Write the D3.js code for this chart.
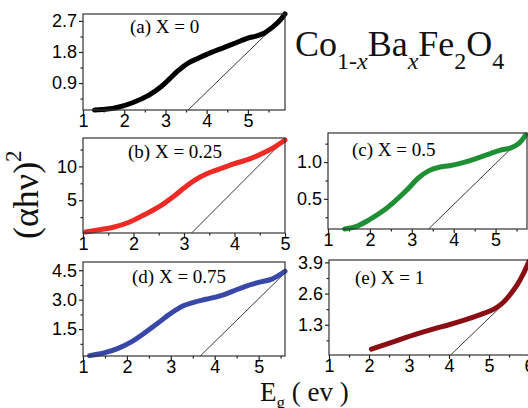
<!DOCTYPE html>
<html><head><meta charset="utf-8">
<script src="https://cdn.jsdelivr.net/npm/d3@7"></script>
<style>body{margin:0;background:#fff} svg{display:block}</style>
</head><body>
<svg id="c" width="528" height="408"></svg>
<script>
// ---- data ----
const aX = [1.28, 1.6, 1.85, 2.2, 2.6, 2.9, 3.1, 3.3, 3.55, 3.8, 4.1, 4.4, 4.7, 5.0, 5.2, 5.4, 5.6, 5.75, 5.9];
const aY = [0.12, 0.15, 0.2, 0.33, 0.55, 0.8, 1.02, 1.25, 1.48, 1.62, 1.78, 1.92, 2.06, 2.2, 2.26, 2.35, 2.52, 2.68, 2.9];
const aTan = [[3.55, 0.12], [5.62, 2.52]];

const bX = [1.05, 1.3, 1.6, 1.9, 2.2, 2.5, 2.8, 3.0, 3.2, 3.45, 3.7, 4.0, 4.3, 4.6, 4.8, 5.0];
const bY = [0.3, 0.6, 1.0, 1.7, 2.8, 4.0, 5.6, 6.8, 7.9, 8.9, 9.6, 10.4, 11.1, 12.1, 12.9, 13.9];
const bTan = [[3.15, 0.15], [5.0, 14.0]];

const cX = [1.4, 1.7, 2.0, 2.3, 2.6, 2.9, 3.15, 3.4, 3.65, 3.9, 4.2, 4.5, 4.8, 5.1, 5.35, 5.55, 5.72];
const cY = [0.09, 0.13, 0.22, 0.33, 0.47, 0.63, 0.78, 0.88, 0.93, 0.95, 0.99, 1.04, 1.1, 1.16, 1.19, 1.25, 1.37];
const cTan = [[3.4, 0.09], [5.74, 1.39]];

const dX = [1.15, 1.5, 1.8, 2.1, 2.4, 2.7, 3.0, 3.25, 3.5, 3.8, 4.1, 4.4, 4.7, 5.0, 5.3, 5.6];
const dY = [0.15, 0.3, 0.52, 0.85, 1.3, 1.8, 2.3, 2.65, 2.85, 3.02, 3.18, 3.42, 3.68, 3.88, 4.05, 4.45];
const dTan = [[3.67, 0.13], [5.58, 4.32]];

const eX = [2.06, 2.4, 2.8, 3.2, 3.6, 4.0, 4.4, 4.8, 5.1, 5.3, 5.5, 5.7, 5.85, 6.0];
const eY = [0.28, 0.47, 0.7, 0.92, 1.12, 1.3, 1.5, 1.73, 1.93, 2.15, 2.5, 2.95, 3.4, 3.95];
const eTan = [[4.04, 0.04], [5.25, 1.98]];

const aYTicks = [0.9, 1.8, 2.7];
const bYTicks = [5, 10];
const cYTicks = [0.5, 1.0];
const dYTicks = [1.5, 3.0, 4.5];
const eYTicks = [1.3, 2.6, 3.9];
const aXTicks = [1, 2, 3, 4, 5];
const bXTicks = [1, 2, 3, 4, 5];
const cXTicks = [1, 2, 3, 4, 5];
const dXTicks = [1, 2, 3, 4, 5];
const eXTicks = [1, 2, 3, 4, 5, 6];
const labels = ["(a) X = 0", "(b) X = 0.25", "(c) X = 0.5", "(d) X = 0.75", "(e) X = 1"];
const colors = ["#000000", "#ee2a24", "#1f8f35", "#3848a8", "#8a0f14"];

const SERIF = "'Liberation Serif', 'Times New Roman', Times, serif";
const SANS = "'Liberation Sans', Arial, Helvetica, sans-serif";

// ---- layout ----
const panels = [
  {xs:aX, ys:aY, tan:aTan, xt:aXTicks, yt:aYTicks, xd:[1,5.9], yd:[0.12,2.9], box:[83,285,14,110], lab:[130,33], fmt:".1f"},
  {xs:bX, ys:bY, tan:bTan, xt:bXTicks, yt:bYTicks, xd:[1,5], yd:[0.15,14.2], box:[83,285,138,233], lab:[128,158], fmt:"d"},
  {xs:cX, ys:cY, tan:cTan, xt:cXTicks, yt:cYTicks, xd:[1,5.75], yd:[0.09,1.395], box:[328,527,133,229], lab:[352,156], fmt:".1f"},
  {xs:dX, ys:dY, tan:dTan, xt:dXTicks, yt:dYTicks, xd:[1,5.6], yd:[0.13,4.92], box:[83,285,262,356], lab:[132,283], fmt:".1f"},
  {xs:eX, ys:eY, tan:eTan, xt:eXTicks, yt:eYTicks, xd:[1,6.0], yd:[0.04,4.0], box:[329,529,260,355], lab:[355,284], fmt:".1f"}
];

const svg = d3.select("#c");

panels.forEach((p, i) => {
  const [l, r, t, b] = p.box;
  const x = d3.scaleLinear().domain(p.xd).range([l, r]);
  const y = d3.scaleLinear().domain(p.yd).range([b, t]);
  const g = svg.append("g");

  const xMinor = d3.range(p.xt[0] + 0.5, p.xd[1] + 1e-9, 1);
  const step = p.yt[1] - p.yt[0];
  const yMinor = [];
  for (let v = p.yt[0] - step / 2; v <= p.yd[1] + 1e-9; v += step) if (v >= p.yd[0]) yMinor.push(v);

  const styleAxis = sel => {
    sel.select(".domain").remove();
    sel.selectAll(".tick line").attr("stroke", "#222").attr("stroke-width", 1.2);
    sel.selectAll(".tick text").style("font-family", SANS).style("font-size", "18px").attr("fill", "#000");
  };

  g.append("g").attr("transform", `translate(0,${b})`)
    .call(d3.axisBottom(x).tickValues(p.xt).tickSize(4).tickPadding(0).tickFormat(d3.format("d")))
    .call(styleAxis);
  g.append("g").attr("transform", `translate(0,${b})`)
    .call(d3.axisBottom(x).tickValues(xMinor).tickSize(2.5).tickFormat(""))
    .call(styleAxis);
  g.append("g").attr("transform", `translate(${l},0)`)
    .call(d3.axisLeft(y).tickValues(p.yt).tickSize(4).tickPadding(2).tickFormat(d3.format(p.fmt)))
    .call(styleAxis);
  g.append("g").attr("transform", `translate(${l},0)`)
    .call(d3.axisLeft(y).tickValues(yMinor).tickSize(2.5).tickFormat(""))
    .call(styleAxis);

  g.append("line")
    .attr("x1", x(p.tan[0][0])).attr("y1", y(p.tan[0][1]))
    .attr("x2", x(p.tan[1][0])).attr("y2", y(p.tan[1][1]))
    .attr("stroke", "#222").attr("stroke-width", 0.9);

  const pts = p.xs.map((v, k) => [v, p.ys[k]]);
  g.append("path").datum(pts)
    .attr("d", d3.line().x(d => x(d[0])).y(d => y(d[1])).curve(d3.curveCatmullRom))
    .attr("fill", "none").attr("stroke", colors[i]).attr("stroke-width", 5)
    .attr("stroke-linecap", "round").attr("stroke-linejoin", "round");

  g.append("rect").attr("x", l).attr("y", t).attr("width", r - l).attr("height", b - t)
    .attr("fill", "none").attr("stroke", "#333").attr("stroke-width", 1.2);

  g.append("text").attr("x", p.lab[0]).attr("y", p.lab[1])
    .style("font-family", SERIF).style("font-size", "19px")
    .text(labels[i]);
});

// title
const title = svg.append("text").attr("x", 295).attr("y", 56)
  .style("font-family", SERIF).style("font-size", "36px").attr("fill", "#111");
title.append("tspan").text("Co");
title.append("tspan").style("font-size", "24px").attr("dy", 13).text("1-");
title.append("tspan").style("font-size", "24px").attr("font-style", "italic").text("x");
title.append("tspan").attr("dy", -13).text("Ba");
title.append("tspan").style("font-size", "24px").attr("font-style", "italic").attr("dy", 13).text("x");
title.append("tspan").attr("dy", -13).text("Fe");
title.append("tspan").style("font-size", "24px").attr("dy", 13).text("2");
title.append("tspan").attr("dy", -13).text("O");
title.append("tspan").style("font-size", "24px").attr("dy", 13).text("4");

// y label
const yl = svg.append("text").attr("transform", "translate(38,239) rotate(-90)")
  .style("font-family", SERIF).style("font-size", "36px").attr("fill", "#111");
yl.append("tspan").text("(\u03b1h\u03bd)");
yl.append("tspan").style("font-size", "23px").attr("dy", -17).text("2");

// x label
const xl = svg.append("text").attr("x", 260).attr("y", 401)
  .style("font-family", SERIF).style("font-size", "27px").attr("fill", "#111");
xl.append("tspan").text("E");
xl.append("tspan").style("font-size", "17px").attr("dy", 7).text("g");
xl.append("tspan").attr("dy", -7).text(" ( ev )");
</script>
</body></html>
